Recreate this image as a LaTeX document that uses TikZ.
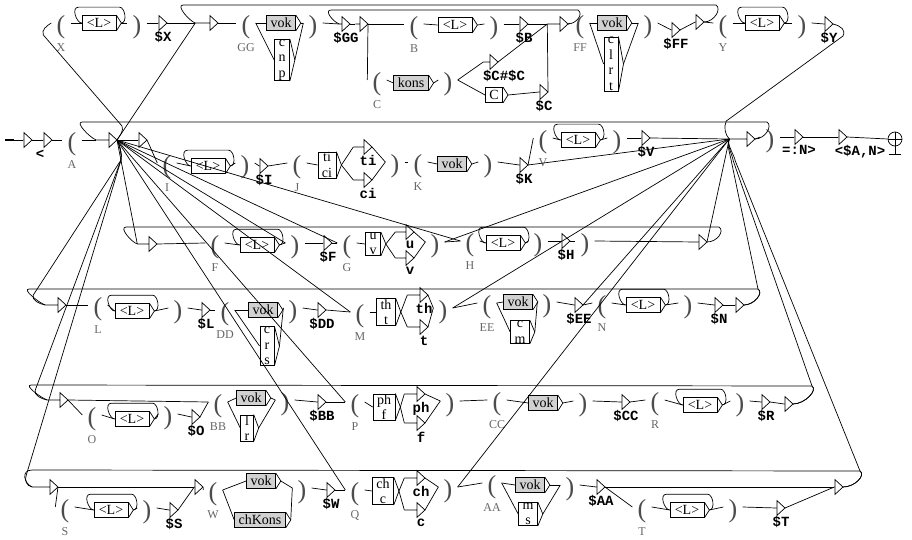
\documentclass[tikz,border=0pt]{standalone}
\usepackage{fontspec}
\setmainfont{Liberation Serif}
\newfontfamily\outfont{Liberation Mono}
\usetikzlibrary{positioning,calc}

\begin{document}
\begin{tikzpicture}[x=1pt,y=-1pt,line width=0.7pt,
  box/.style={draw,fill=white,inner xsep=4pt,inner ysep=0.5pt,minimum height=15pt,align=center,font=\fontsize{14}{15.5}\selectfont},
  lbox/.style={box,minimum width=34pt},
  gbox/.style={box,fill=black!18},
  par/.style={inner xsep=5pt,inner ysep=0pt,text height=21pt,text depth=0pt,text=black!70,font=\fontsize{26}{26}\selectfont},
  var/.style={inner sep=0pt,text=black!60,font=\fontsize{12}{12}\selectfont},
  outp/.style={inner sep=0pt,font=\outfont\bfseries\fontsize{14}{14}\selectfont},
  emp/.style={inner sep=0pt,minimum height=14pt,anchor=east}]
\useasboundingbox (0,0) rectangle (912,540);

% boxes
\node[lbox] (bX) at (99,23) {<L>};
\node[gbox] (bGG1) at (281,23) {vok};
\node[box] (bGG2) at (282,60) {c\\n\\p};
\node[lbox] (bB) at (455,25) {<L>};
\node[gbox] (bC) at (411,83) {kons};
\node[box] (bC2) at (494,95) {C};
\node[gbox] (bFF1) at (612,23) {vok};
\node[box] (bFF2) at (611,64) {c\\l\\r\\t};
\node[lbox] (bY) at (762,23) {<L>};

\node[lbox] (bI) at (208,166) {<L>};
\node[box] (bJ) at (327,165) {ti\\ci};
\node[gbox] (bK) at (452,164) {vok};
\node[lbox] (bV) at (578,140) {<L>};

\node[lbox] (bF) at (257,245) {<L>};
\node[box] (bG) at (373,244) {u\\v};
\node[lbox] (bH) at (503,243) {<L>};

\node[lbox] (bL) at (132,311) {<L>};
\node[gbox] (bDD1) at (263,310) {vok};
\node[box] (bDD2) at (267,346) {c\\r\\s};
\node[box] (bM) at (386,312) {th\\t};
\node[gbox] (bEE1) at (518,302) {vok};
\node[box] (bEE2) at (520,332) {c\\m};
\node[lbox] (bN) at (643,305) {<L>};

\node[lbox] (bO) at (132,419) {<L>};
\node[gbox] (bBB1) at (251,398) {vok};
\node[box] (bBB2) at (247,428) {l\\r};
\node[box] (bP) at (384,407) {ph\\f};
\node[gbox] (bCC) at (543,403) {vok};
\node[lbox] (bR) at (700,405) {<L>};

\node[lbox] (bS) at (111,510) {<L>};
\node[gbox] (bW1) at (261,481) {vok};
\node[gbox] (bW2) at (260,520) {chKons};
\node[box] (bQ) at (383,491) {ch\\c};
\node[gbox] (bAA1) at (530,485) {vok};
\node[box] (bAA2) at (528,514) {m\\s};
\node[lbox] (bT) at (687,510) {<L>};

\foreach \bx in {bX,bGG1,bGG2,bB,bC,bC2,bFF1,bFF2,bY,bI,bJ,bK,bV,bF,bG,bH,bL,bDD1,bDD2,bM,bEE1,bEE2,bN,bO,bBB1,bBB2,bP,bCC,bR,bS,bW1,bW2,bQ,bAA1,bAA2,bT}{
  \coordinate (\bx-o) at ([xshift=5pt]\bx.east);
  \draw (\bx.north east) -- (\bx-o) -- (\bx.south east);
}

% loops on <L>
\foreach \bx in {bX,bY,bI,bV,bF,bH,bL,bN,bO,bR,bS,bT}{
  \draw (\bx-o) .. controls +(6,0) and +(6,0) .. ($(\bx.north east)+(3,-8)$) -- ($(\bx.north west)+(-3,-8)$) .. controls +(-8,0) and +(-5,0) .. (\bx.west);
}

% variables
\foreach \nm/\xx/\yy in {oX/61/23, oGG/246/23, oB/414/24, oC/377/80, oFF/580/23, oY/723/23,
  oA/72/140, oI/167/163, oJ/297/163, oK/418/162, oV/543/138,
  oF/215/243, oG/347/243, oH/470/241,
  oL/98/305, oDD/225/310, oM/360/312, oEE/487/303, oN/602/303,
  oO/92/415, oBB/218/402, oP/355/402, oCC/497/400, oR/655/400,
  oS/65/507, oW/213/490, oQ/355/490, oAA/492/483, oT/642/507}
  \node[par] (\nm) at (\xx,\yy) {(};
\foreach \nm/\xx/\yy in {cX/137/23, cGG/313/23, cB/494/24, cC/448/80, cFF/648/23, cY/802/23,
  cA/770/137, cI/245/163, cJ/395/162, cK/488/162, cV/617/138,
  cF/295/243, cG/435/242, cH/538/241, cH2/585/241,
  cL/178/308, cDD/293/308, cM/443/308, cEE/547/302, cN/688/303,
  cO/168/414, cBB/285/400, cP/450/401, cCC/583/401, cR/740/401,
  cS/147/508, cW/302/488, cQ/448/487, cAA/570/485, cT/733/507}
  \node[par] (\nm) at (\xx,\yy) {)};
\foreach \nm/\vname in {oX/X, oGG/GG, oB/B, oC/C, oFF/FF, oY/Y, oA/A, oI/I, oJ/J, oK/K, oV/V,
  oF/F, oG/G, oH/H, oL/L, oDD/DD, oM/M, oEE/EE, oN/N, oO/O, oBB/BB, oP/P, oCC/CC, oR/R,
  oS/S, oW/W, oQ/Q, oAA/AA, oT/T}
  \node[var, below=9pt of \nm] (\nm-v) {\vname};

% empty boxes
\foreach \nm/\xx/\yy/\ww in {eX/167/23/8, eX2/218/23/22, eGG/350/24/10, eGG2/368/24/12, eB/528/24/8,
  eB2/568/24/20, eC1/498/62/14, eC2/548/92/8, eFF/680/30/8, eFF2/704/22/8, eY/833/24/8,
  e0/32/140/8, eLess/52/140/8, hub1/117/140/20, eA2/147/140/8, eI/268/166/8, eti/372/147/18,
  eci/372/180/18, eK/528/165/8, eV/650/138/8, hub2/755/139/25, eNm/803/137/8, eAN/847/137/8,
  eF0/157/244/19, eF/332/243/8, eu/414/232/18, ev/414/258/18, eH/570/241/8, eH2/707/242/8,
  eL0/66/305/20, eL/210/310/8, eDD/326/310/8, eth/428/295/20, et/428/327/20, eEE/583/305/8,
  eN/723/305/8, eN2/744/305/8,
  eO0/68/400/20, eO/200/417/8, eBB/326/402/8, eph/425/394/20, ef/425/423/20, eCC/630/402/8,
  eR/770/402/8, eR2/793/404/8,
  eS0/58/487/25, eS/178/510/8, eW0/203/487/8, eW/335/490/8, ech/425/478/20, ec/425/510/20,
  eAA/605/487/8, eT/785/508/8, eT2/843/487/8}{
  \node[emp,minimum width=\ww] (\nm) at (\xx,\yy) {};
  \draw (\nm.west) -- ([xshift=-8pt]\nm.east) ([xshift=-8pt]\nm.north east) -- (\nm.east) -- ([xshift=-8pt]\nm.south east) -- cycle;
}
\foreach \nm/\lbl in {eX/\$X, eGG/\$GG, eB/\$B, eC2/\$C, eFF/\$FF, eY/\$Y, eI/\$I, eti/ti, eci/ci,
  eK/\$K, eV/\$V, eNm/=:N>, eF/\$F, eu/u, ev/v, eH/\$H, eL/\$L, eDD/\$DD, eth/th, et/t, eEE/\$EE,
  eN/\$N, eO/\$O, eBB/\$BB, eph/ph, ef/f, eCC/\$CC, eR/\$R, eS/\$S, eW/\$W, ech/ch, ec/c,
  eAA/\$AA, eT/\$T}
  \node[outp, anchor=north] (\nm-t) at ($(\nm.south east)+(-4,1)$) {\lbl};
\node[outp, anchor=north] (eLess-t) at ($(eLess.south east)+(-12,2)$) {<};
\node[outp, anchor=north] (eC1-t) at ($(eC1.south east)+(6,1)$) {\$C\#\$C};
\node[outp, anchor=north] (eAN-t) at ($(eAN.south east)+(13,1)$) {<\$A,N>};

% start and end
\coordinate (s0) at (5,140);
\draw[line width=1.6pt] (s0) -- ++(9,0);
\draw (s0) -- (e0.west);
\node[draw, circle, minimum size=14pt, inner sep=0pt] (fin) at (895,139) {};
\draw (fin.north) -- (fin.south) -- ++(0,8) ++(-6,0) -- ++(12,0) (fin.west) -- (fin.east);

% transitions
\foreach \src/\dst in {oX.east/bX.west, bX-o/cX.west, cX.east/eX.west, eX.east/eX2.west, hub1.east/eX2.west,
  eX2.east/oGG.west, oGG.east/bGG1.west, oGG.east/bGG2.west, bGG1-o/cGG.west, bGG2-o/cGG.west,
  cGG.east/eGG.west, eGG.east/eGG2.west, eGG2.east/oB.west, eGG2.east/oC.west, oB.east/bB.west,
  bB-o/cB.west, cB.east/eB.west, eB.east/eB2.west, oC.east/bC.west, bC-o/cC.west, cC.east/eC1.west,
  cC.east/bC2.west, bC2-o/eC2.west, eC1.east/eB2.west, eC2.east/eB2.west, eB2.east/oFF.west,
  oFF.east/bFF1.west, oFF.east/bFF2.west, bFF1-o/cFF.west, bFF2-o/cFF.west, cFF.east/eFF.west,
  eFF.east/eFF2.west, eFF2.east/oY.west, oY.east/bY.west, bY-o/cY.west, cY.east/eY.west,
  e0.east/eLess.west, eLess.east/oA.west, oA.east/hub1.west, hub1.east/eA2.west, eA2.east/oI.west,
  oI.east/bI.west, bI-o/cI.west, cI.east/eI.west, eI.east/oJ.west, oJ.east/bJ.west, bJ-o/eti.west,
  bJ-o/eci.west, eti.east/cJ.west, eci.east/cJ.west, cJ.east/oK.west, oK.east/bK.west, bK-o/cK.west,
  cK.east/eK.west, eK.east/oV.west, eK.east/hub2.west, oV.east/bV.west, bV-o/cV.west, cV.east/eV.west,
  eV.east/hub2.west, hub2.east/cA.west, cA.east/eNm.west, eNm.east/eAN.west, eAN.east/fin.west,
  hub1.east/eF0.west, eF0.east/oF.west, oF.east/bF.west, bF-o/cF.west, cF.east/eF.west, eF.east/oG.west,
  oG.east/bG.west, bG-o/eu.west, bG-o/ev.west, eu.east/cG.west, ev.east/cG.west, cG.east/oH.west,
  cG.east/hub2.west, oH.east/bH.west, bH-o/cH.west, cH.east/eH.west, eH.east/cH2.west,
  cH2.east/eH2.west, eH2.east/hub2.west, hub1.east/cF.west, hub1.east/oG.west, hub1.east/oH.west,
  eL0.east/oL.west, oL.east/bL.west, bL-o/cL.west, cL.east/eL.west, eL.east/oDD.west,
  oDD.east/bDD1.west, oDD.east/bDD2.west, bDD1-o/cDD.west, bDD2-o/cDD.west, cDD.east/eDD.west,
  eDD.east/oM.west, oM.east/bM.west, bM-o/eth.west, bM-o/et.west, eth.east/cM.west, et.east/cM.west,
  cM.east/oEE.west, cM.east/hub2.west, oEE.east/bEE1.west, oEE.east/bEE2.west, bEE1-o/cEE.west,
  bEE2-o/cEE.west, cEE.east/eEE.west, eEE.east/oN.west, eEE.east/hub2.west, oN.east/bN.west,
  bN-o/cN.west, cN.east/eN.west, eN.east/eN2.west, hub1.east/oM.west,
  eO0.east/oO.west, eO0.east/oBB.west, oO.east/bO.west, bO-o/cO.west, cO.east/eO.west, eO.east/oBB.west,
  oBB.east/bBB1.west, oBB.east/bBB2.west, bBB1-o/cBB.west, bBB2-o/cBB.west, cBB.east/eBB.west,
  eBB.east/oP.west, oP.east/bP.west, bP-o/eph.west, bP-o/ef.west, eph.east/cP.west, ef.east/cP.west,
  cP.east/oCC.west, oCC.east/bCC.west, bCC-o/cCC.west, cCC.east/eCC.west, eCC.east/oR.west,
  oR.east/bR.west, bR-o/cR.west, cR.east/eR.west, eR.east/eR2.west, hub1.east/oP.west,
  eS0.east/oS.west, eS0.east/eW0.west, oS.east/bS.west, bS-o/cS.west, cS.east/eS.west, eS.east/eW0.west,
  eW0.east/oW.west, oW.east/bW1.west, oW.east/bW2.west, bW1-o/cW.west, bW2-o/cW.west, cW.east/eW.west,
  eW.east/oQ.west, oQ.east/bQ.west, bQ-o/ech.west, bQ-o/ec.west, ech.east/cQ.west, ec.east/cQ.west,
  cQ.east/oAA.west, cQ.east/hub2.west, oAA.east/bAA1.west, oAA.east/bAA2.west, bAA1-o/cAA.west,
  bAA2-o/cAA.west, cAA.east/eAA.west, eAA.east/eT2.west, eAA.east/oT.west, oT.east/bT.west,
  bT-o/cT.west, cT.east/eT.west, eT.east/eT2.west, hub1.east/oQ.west}
  \draw (\src) -- (\dst);

% going back
\draw (eFF2.east) .. controls +(10,0) and +(6,4) .. ($(eFF2.east)+(12,-17)$) -- ($(eX2.west)+(-12,-18)$) .. controls +(-8,0) and +(-6,-2) .. (eX2.west);
\draw (eB2.east) .. controls +(8,0) and +(6,4) .. ($(eB2.east)+(10,-14)$) -- ($(eGG.west)+(-8,-14)$) .. controls +(-8,0) and +(-6,-2) .. (eGG.west);
\draw (hub2.east) .. controls +(10,0) and +(6,4) .. ($(hub2.east)+(12,-17)$) -- ($(hub1.west)+(-14,-18)$) .. controls +(-8,0) and +(-6,-2) .. (hub1.west);
\draw (eH2.east) .. controls +(10,0) and +(6,4) .. ($(eH2.east)+(12,-15)$) -- ($(eF0.west)+(-11,-17)$) .. controls +(-8,0) and +(-6,-2) .. (eF0.west);
\draw (eN2.east) .. controls +(10,0) and +(6,4) .. ($(eN2.east)+(14,-16)$) -- ($(eL0.west)+(-16,-16)$) .. controls +(-8,0) and +(-6,-2) .. (eL0.west);
\draw (eR2.east) .. controls +(12,0) and +(6,4) .. ($(eR2.east)+(19,-18)$) -- ($(eO0.west)+(-16,-15)$) .. controls +(-8,0) and +(-6,-2) .. (eO0.west);
\draw (eT2.east) .. controls +(12,0) and +(6,4) .. ($(eT2.east)+(17,-16)$) -- ($(eS0.west)+(0,-17)$) .. controls +(-12,0) and +(-8,-3) .. (eS0.west);

\draw (hub1.east) .. controls +(3,-5) and +(2,5) .. ($(hub1.east)+(5,-14)$) -- ($(oX.west)+(-8,12)$) .. controls +(-2,-5) and +(-5,3) .. (oX.west);
\draw (hub1.east) .. controls +(3,6) and +(1,-6) .. ($(hub1.east)+(4,20)$) -- ($(eL0.west)+(-12,-10)$) .. controls +(-2,5) and +(-6,-1) .. (eL0.west);
\draw (hub1.east) .. controls +(3,6) and +(1,-6) .. ($(hub1.east)+(4,20)$) -- ($(eO0.west)+(-12,-10)$) .. controls +(-2,5) and +(-6,-1) .. (eO0.west);
\draw (hub1.east) .. controls +(3,6) and +(1,-6) .. ($(hub1.east)+(4,20)$) -- ($(eS0.west)+(-6,-12)$) .. controls +(-2,5) and +(-6,-1) .. (eS0.west);

\draw (eY.east) .. controls +(8,2) and +(3,-6) .. ($(eY.east)+(10,12)$) -- ($(hub2.west)+(-3,-18)$) .. controls +(-3,6) and +(-4,-4) .. (hub2.west);
\draw (eN2.east) .. controls +(10,0) and +(6,4) .. ($(eN2.east)+(14,-16)$) -- ($(hub2.west)+(2,22)$) .. controls +(-1,-6) and +(-3,5) .. (hub2.west);
\draw (eR2.east) .. controls +(12,0) and +(6,4) .. ($(eR2.east)+(19,-18)$) -- ($(hub2.west)+(4,22)$) .. controls +(-1,-6) and +(-3,5) .. (hub2.west);
\draw (eT2.east) .. controls +(12,0) and +(6,4) .. ($(eT2.east)+(17,-16)$) -- ($(hub2.west)+(6,22)$) .. controls +(-1,-6) and +(-3,5) .. (hub2.west);

\end{tikzpicture}
\end{document}
